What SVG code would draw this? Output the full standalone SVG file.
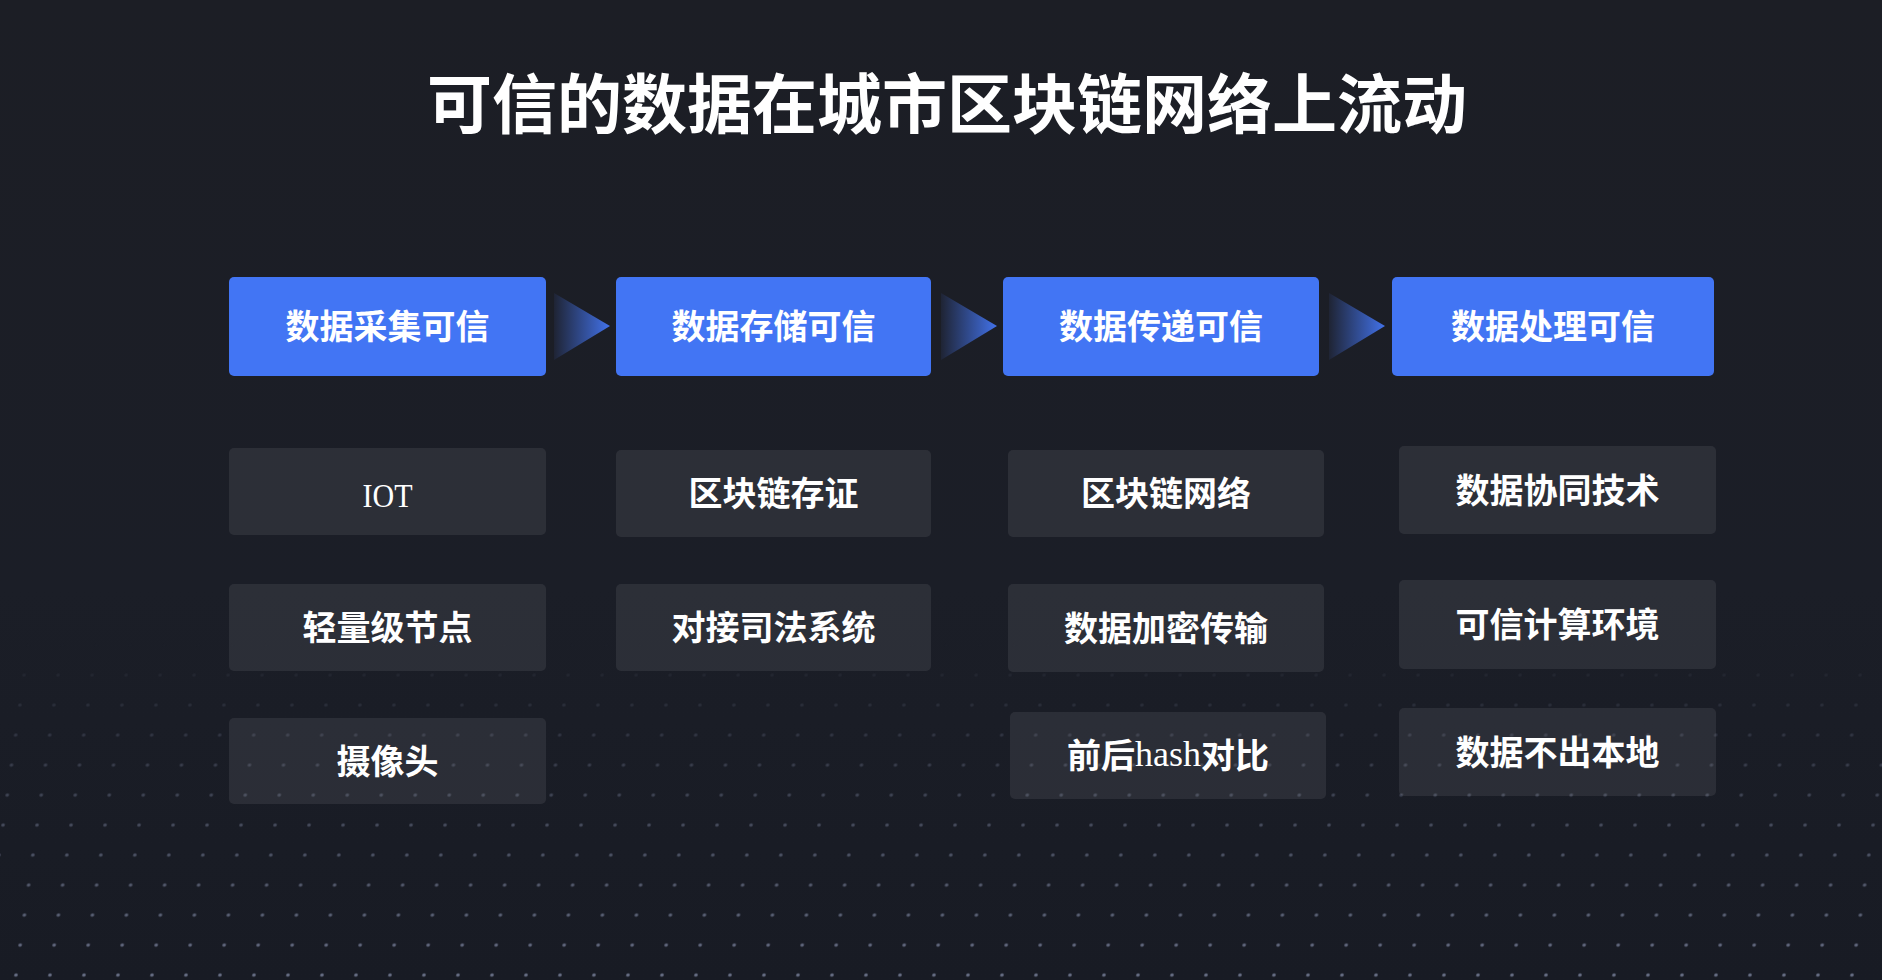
<svg xmlns="http://www.w3.org/2000/svg" width="1882" height="980" viewBox="0 0 1882 980">
  <style>
    .title { font-family: "Noto Sans CJK SC", "Noto Sans", sans-serif; font-weight: 700; font-size: 65px; fill: #ffffff; }
    .step { fill: #4275f4; }
    .item { fill: #ffffff; fill-opacity: 0.08; }
    .lbl { font-family: "Noto Sans CJK SC", "Noto Sans", sans-serif; font-weight: 700; font-size: 34px; fill: #ffffff; }
    .serif { font-family: "Liberation Serif", "DejaVu Serif", serif; font-weight: 400; }
  </style>
  <defs>
    <linearGradient id="bg" x1="0" y1="0" x2="0" y2="1">
      <stop offset="0" stop-color="#1c1e25"/>
      <stop offset="0.6" stop-color="#1b1e27"/>
      <stop offset="1" stop-color="#181b24"/>
    </linearGradient>
    <linearGradient id="arrowGrad" x1="0" y1="0" x2="1" y2="0">
      <stop offset="0" stop-color="#1f2434"/>
      <stop offset="1" stop-color="#4272ea"/>
    </linearGradient>
    <pattern id="dots" width="34" height="30" patternUnits="userSpaceOnUse" patternTransform="skewX(-8)">
      <circle cx="17" cy="15" r="1.8" fill="#9aa4c4"/>
    </pattern>
    <linearGradient id="fade" x1="0" y1="0" x2="0" y2="1">
      <stop offset="0" stop-color="#fff" stop-opacity="0"/>
      <stop offset="0.35" stop-color="#fff" stop-opacity="0.22"/>
      <stop offset="1" stop-color="#fff" stop-opacity="0.6"/>
    </linearGradient>
    <mask id="fadeMask">
      <rect x="0" y="640" width="1882" height="340" fill="url(#fade)"/>
    </mask>
  </defs>

  <rect x="0" y="0" width="1882" height="980" fill="url(#bg)"/>
  <rect x="0" y="640" width="1882" height="340" fill="url(#dots)" mask="url(#fadeMask)"/>

  <text class="title" x="947" y="100" text-anchor="middle" dominant-baseline="central">可信的数据在城市区块链网络上流动</text>

  <g id="connectors">
    <polygon points="554,293 610,326 554,360" fill="url(#arrowGrad)"/>
    <polygon points="941,293 997,326 941,360" fill="url(#arrowGrad)"/>
    <polygon points="1329,293 1385,326 1329,360" fill="url(#arrowGrad)"/>
  </g>

  <g id="step1">
    <rect class="step" x="229" y="277" width="317" height="99" rx="5"/>
    <text class="lbl" x="387.5" y="324" text-anchor="middle" dominant-baseline="central">数据采集可信</text>
  </g>
  <g id="step2">
    <rect class="step" x="616" y="277" width="315" height="99" rx="5"/>
    <text class="lbl" x="773.5" y="324" text-anchor="middle" dominant-baseline="central">数据存储可信</text>
  </g>
  <g id="step3">
    <rect class="step" x="1003" y="277" width="316" height="99" rx="5"/>
    <text class="lbl" x="1161" y="324" text-anchor="middle" dominant-baseline="central">数据传递可信</text>
  </g>
  <g id="step4">
    <rect class="step" x="1392" y="277" width="322" height="99" rx="5"/>
    <text class="lbl" x="1553" y="324" text-anchor="middle" dominant-baseline="central">数据处理可信</text>
  </g>

  <g id="iot">
    <rect class="item" x="229" y="448" width="317" height="87" rx="5"/>
    <text class="lbl serif" x="387.5" y="495" text-anchor="middle" dominant-baseline="central" textLength="50" lengthAdjust="spacingAndGlyphs">IOT</text>
  </g>
  <g id="light-node">
    <rect class="item" x="229" y="584" width="317" height="87" rx="5"/>
    <text class="lbl" x="387.5" y="625.5" text-anchor="middle" dominant-baseline="central">轻量级节点</text>
  </g>
  <g id="camera">
    <rect class="item" x="229" y="718" width="317" height="86" rx="5"/>
    <text class="lbl" x="387.5" y="759" text-anchor="middle" dominant-baseline="central">摄像头</text>
  </g>

  <g id="chain-evidence">
    <rect class="item" x="616" y="450" width="315" height="87" rx="5"/>
    <text class="lbl" x="773.5" y="491.5" text-anchor="middle" dominant-baseline="central">区块链存证</text>
  </g>
  <g id="judicial">
    <rect class="item" x="616" y="584" width="315" height="87" rx="5"/>
    <text class="lbl" x="773.5" y="625.5" text-anchor="middle" dominant-baseline="central">对接司法系统</text>
  </g>

  <g id="chain-network">
    <rect class="item" x="1008" y="450" width="316" height="87" rx="5"/>
    <text class="lbl" x="1166" y="491.5" text-anchor="middle" dominant-baseline="central">区块链网络</text>
  </g>
  <g id="encrypt">
    <rect class="item" x="1008" y="584" width="316" height="88" rx="5"/>
    <text class="lbl" x="1166" y="626" text-anchor="middle" dominant-baseline="central">数据加密传输</text>
  </g>
  <g id="hash">
    <rect class="item" x="1010" y="712" width="316" height="87" rx="5"/>
    <text class="lbl" x="1168" y="753.5" text-anchor="middle" dominant-baseline="central">前后<tspan class="serif" font-size="36">hash</tspan>对比</text>
  </g>

  <g id="collab">
    <rect class="item" x="1399" y="446" width="317" height="88" rx="5"/>
    <text class="lbl" x="1557.5" y="488" text-anchor="middle" dominant-baseline="central">数据协同技术</text>
  </g>
  <g id="tee">
    <rect class="item" x="1399" y="580" width="317" height="89" rx="5"/>
    <text class="lbl" x="1557.5" y="622.5" text-anchor="middle" dominant-baseline="central">可信计算环境</text>
  </g>
  <g id="local">
    <rect class="item" x="1399" y="708" width="317" height="88" rx="5"/>
    <text class="lbl" x="1557.5" y="750" text-anchor="middle" dominant-baseline="central">数据不出本地</text>
  </g>
</svg>
